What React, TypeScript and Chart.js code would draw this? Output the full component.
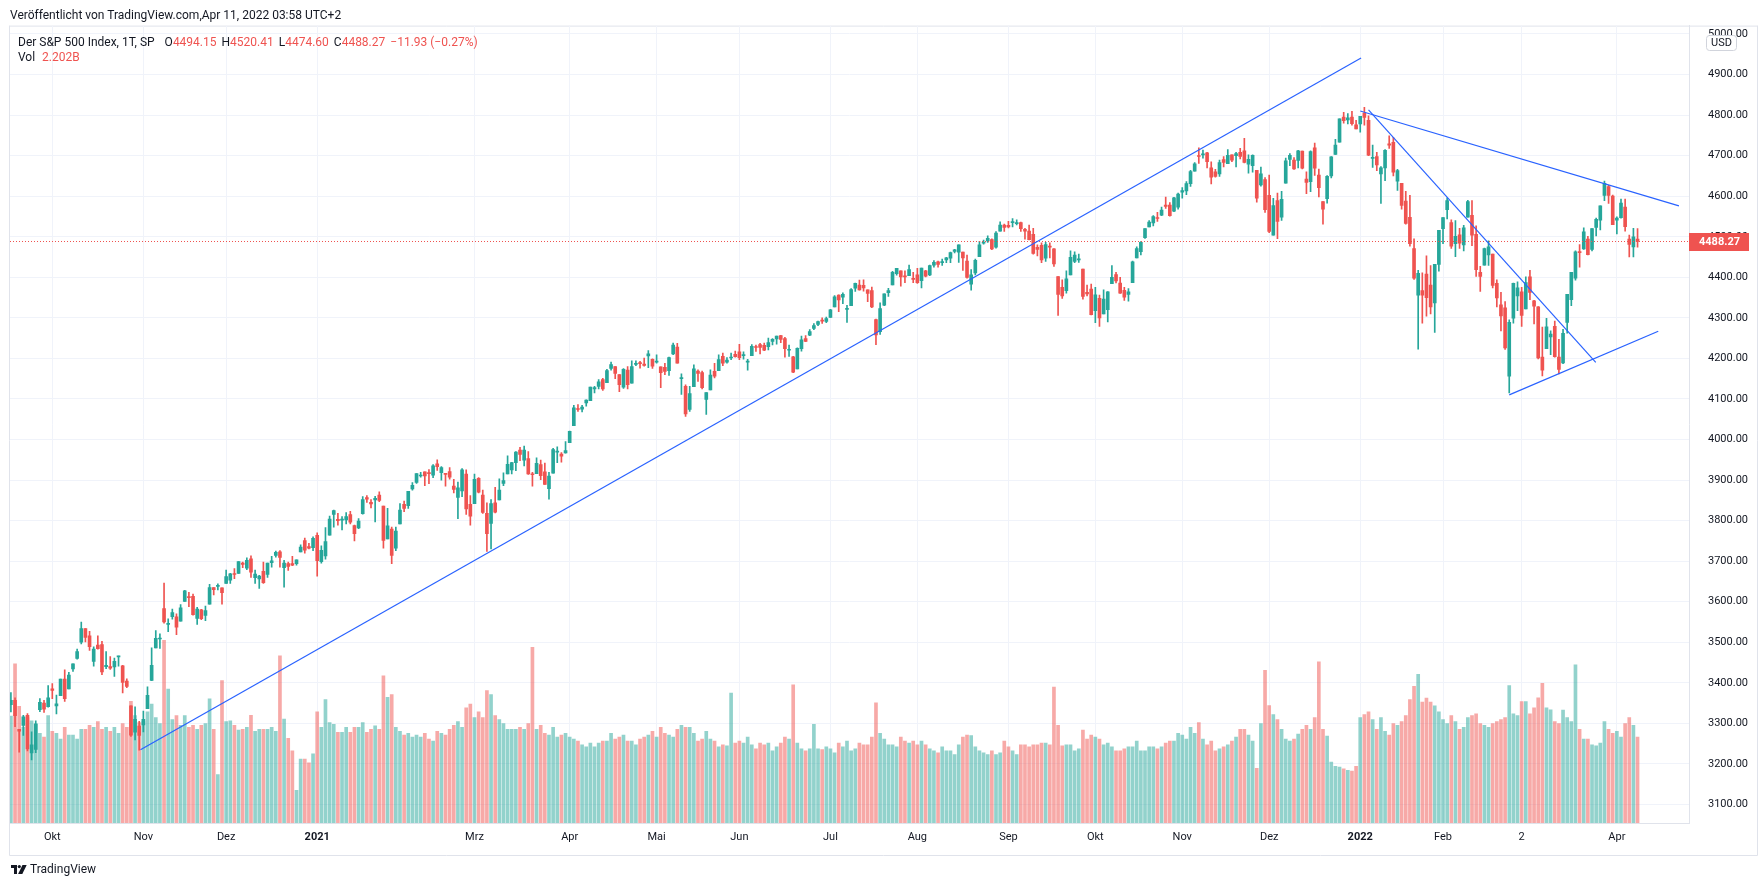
import React, { useEffect, useRef } from "react";
import { Chart, registerables } from "chart.js";
Chart.register(...registerables);

// ---- Daily candles [open, high, low, close] per month ----
const sep20 = [[3346,3376,3328,3357],[3357,3363,3292,3319],[3285,3285,3229,3281],[3295,3320,3270,3316],[3320,3324,3232,3237],[3227,3279,3210,3247],[3236,3306,3228,3298],[3334,3361,3329,3352],[3350,3357,3327,3335],[3341,3393,3340,3363]];
const oct20 = [[3385,3398,3361,3381],[3343,3370,3323,3348],[3368,3409,3368,3409],[3409,3432,3354,3361],[3385,3426,3385,3419],[3434,3447,3428,3447],[3460,3483,3458,3477],[3500,3550,3496,3534],[3534,3534,3501,3512],[3516,3527,3480,3489],[3453,3489,3441,3483],[3493,3516,3483,3484],[3494,3502,3420,3427],[3440,3477,3435,3443],[3440,3465,3433,3436],[3439,3461,3416,3453],[3464,3466,3441,3465],[3442,3443,3375,3401],[3404,3410,3388,3391],[3343,3343,3268,3271],[3278,3341,3259,3310],[3293,3305,3234,3270]];
const nov20 = [[3296,3330,3279,3310],[3336,3390,3336,3369],[3406,3486,3405,3443],[3486,3529,3486,3510],[3508,3521,3485,3509],[3583,3646,3547,3550],[3544,3558,3526,3546],[3563,3582,3557,3573],[3563,3570,3519,3537],[3552,3593,3552,3585],[3601,3628,3601,3627],[3611,3623,3588,3610],[3613,3619,3567,3568],[3559,3586,3544,3582],[3580,3581,3556,3558],[3566,3589,3553,3578],[3594,3643,3594,3635],[3635,3635,3617,3630],[3638,3644,3629,3638],[3634,3634,3594,3622]];
const dec20 = [[3645,3678,3645,3662],[3653,3670,3645,3669],[3669,3682,3657,3667],[3670,3699,3670,3699],[3695,3698,3684,3692],[3683,3708,3679,3702],[3706,3713,3660,3673],[3659,3678,3645,3668],[3656,3665,3633,3663],[3675,3698,3645,3647],[3667,3695,3660,3695],[3696,3712,3685,3701],[3714,3725,3710,3722],[3723,3726,3685,3709],[3684,3702,3636,3695],[3694,3698,3677,3687],[3694,3712,3689,3690],[3694,3703,3690,3703],[3723,3740,3723,3735],[3751,3757,3720,3727],[3736,3744,3730,3732],[3733,3760,3726,3756]];
const jan21 = [[3764,3770,3663,3701],[3699,3738,3695,3727],[3713,3783,3705,3748],[3764,3811,3764,3804],[3815,3826,3784,3825],[3803,3818,3789,3800],[3801,3810,3777,3801],[3802,3820,3792,3810],[3815,3823,3792,3796],[3788,3789,3750,3768],[3782,3805,3780,3799],[3817,3859,3816,3852],[3857,3862,3845,3853],[3845,3852,3831,3841],[3851,3860,3797,3855],[3863,3871,3847,3850],[3836,3836,3732,3751],[3755,3830,3755,3787],[3779,3784,3694,3714]];
const feb21 = [[3732,3784,3726,3774],[3792,3842,3792,3826],[3840,3848,3822,3830],[3837,3872,3830,3872],[3878,3894,3875,3887],[3894,3916,3892,3916],[3910,3919,3907,3911],[3920,3920,3886,3910],[3917,3926,3891,3916],[3912,3938,3906,3935],[3940,3950,3924,3933],[3918,3933,3900,3931],[3916,3916,3885,3914],[3921,3931,3902,3907],[3885,3902,3868,3877],[3857,3895,3805,3881],[3873,3928,3859,3925],[3915,3925,3815,3829],[3840,3862,3789,3811]];
const mar21 = [[3842,3915,3842,3902],[3904,3906,3868,3870],[3863,3875,3818,3820],[3818,3844,3724,3768],[3793,3852,3730,3842],[3844,3882,3819,3821],[3851,3903,3851,3875],[3892,3918,3886,3899],[3915,3960,3915,3939],[3925,3944,3915,3943],[3943,3970,3923,3969],[3974,3981,3948,3963],[3949,3984,3935,3974],[3953,3970,3914,3915],[3914,3919,3885,3913],[3916,3955,3916,3941],[3938,3949,3901,3911],[3920,3942,3889,3889],[3879,3919,3853,3910],[3917,3978,3917,3975],[3969,3982,3943,3971],[3964,3968,3944,3959],[3967,3995,3966,3973]];
const apr21 = [[3992,4021,3992,4020],[4034,4084,4034,4078],[4075,4086,4069,4074],[4075,4084,4068,4080],[4090,4098,4082,4097],[4096,4129,4096,4129],[4125,4131,4115,4128],[4131,4148,4125,4142],[4148,4151,4121,4125],[4140,4173,4140,4170],[4175,4191,4171,4185],[4180,4180,4150,4163],[4160,4160,4118,4135],[4129,4175,4126,4173],[4171,4180,4125,4135],[4139,4194,4139,4180],[4185,4194,4182,4188],[4188,4193,4176,4187],[4186,4201,4181,4183],[4206,4219,4177,4211],[4198,4199,4175,4181]];
const may21 = [[4191,4209,4188,4193],[4179,4179,4128,4165],[4178,4188,4160,4168],[4170,4203,4158,4202],[4211,4238,4209,4233],[4228,4237,4188,4188],[4150,4162,4111,4152],[4131,4135,4057,4063],[4074,4131,4069,4113],[4130,4184,4130,4174],[4169,4172,4143,4163],[4165,4169,4125,4128],[4099,4116,4062,4116],[4122,4172,4122,4159],[4168,4188,4152,4156],[4170,4209,4170,4197],[4205,4213,4182,4188],[4191,4202,4188,4196],[4201,4213,4197,4201],[4210,4218,4203,4204]];
const jun21 = [[4216,4235,4197,4202],[4207,4216,4198,4208],[4191,4198,4171,4193],[4207,4234,4207,4230],[4229,4233,4217,4227],[4234,4237,4211,4227],[4232,4238,4219,4220],[4229,4250,4221,4239],[4242,4249,4233,4247],[4248,4255,4235,4255],[4256,4257,4239,4247],[4249,4252,4203,4224],[4220,4233,4205,4222],[4204,4205,4165,4166],[4174,4226,4174,4225],[4224,4255,4218,4246],[4249,4256,4241,4242],[4257,4271,4256,4266],[4274,4286,4271,4281],[4284,4292,4281,4291],[4294,4300,4286,4292],[4291,4302,4288,4298]];
const jul21 = [[4301,4321,4301,4320],[4327,4355,4327,4352],[4356,4357,4315,4344],[4351,4362,4335,4358],[4321,4331,4289,4321],[4330,4372,4330,4370],[4373,4386,4365,4385],[4381,4393,4368,4369],[4380,4394,4366,4374],[4369,4369,4340,4360],[4367,4376,4325,4327],[4296,4297,4234,4258],[4266,4337,4259,4323],[4331,4359,4330,4359],[4362,4373,4353,4367],[4381,4415,4381,4412],[4409,4422,4405,4422],[4416,4416,4378,4401],[4402,4416,4387,4401],[4404,4430,4404,4419],[4396,4412,4387,4395]];
const aug21 = [[4406,4422,4385,4387],[4392,4423,4374,4423],[4416,4417,4401,4403],[4406,4430,4404,4429],[4430,4441,4425,4437],[4438,4440,4425,4432],[4436,4445,4429,4437],[4443,4449,4436,4448],[4447,4462,4436,4461],[4464,4469,4460,4468],[4462,4480,4437,4480],[4462,4462,4417,4448],[4440,4455,4398,4400],[4383,4419,4368,4406],[4411,4445,4406,4442],[4451,4489,4451,4480],[4484,4492,4482,4486],[4490,4502,4486,4496],[4493,4495,4468,4470],[4474,4513,4472,4509],[4514,4537,4514,4529],[4529,4531,4513,4523]];
const sep21 = [[4528,4538,4522,4524],[4535,4545,4524,4537],[4532,4542,4529,4535],[4535,4536,4513,4520],[4518,4521,4494,4514],[4514,4529,4492,4493],[4506,4521,4457,4459],[4474,4480,4453,4469],[4479,4485,4436,4443],[4447,4486,4439,4481],[4477,4485,4448,4474],[4470,4471,4427,4433],[4402,4402,4306,4358],[4375,4394,4348,4354],[4367,4416,4361,4396],[4406,4465,4406,4449],[4439,4463,4436,4455],[4443,4457,4437,4443],[4420,4420,4346,4353],[4363,4381,4354,4359],[4371,4383,4307,4308]];
const oct21 = [[4318,4375,4288,4357],[4348,4356,4279,4300],[4310,4369,4310,4346],[4320,4365,4290,4364],[4384,4429,4384,4400],[4407,4412,4386,4391],[4386,4400,4360,4361],[4368,4375,4343,4351],[4358,4372,4341,4364],[4387,4440,4387,4438],[4448,4475,4448,4471],[4463,4488,4455,4486],[4498,4520,4496,4520],[4524,4540,4524,4536],[4534,4552,4527,4550],[4547,4560,4538,4545],[4553,4573,4552,4566],[4578,4598,4570,4575],[4578,4584,4551,4552],[4563,4597,4562,4596],[4573,4608,4568,4605]];
const nov21 = [[4610,4621,4595,4614],[4613,4636,4604,4631],[4631,4664,4624,4661],[4662,4683,4662,4680],[4700,4719,4681,4698],[4702,4714,4694,4702],[4707,4708,4670,4685],[4670,4685,4630,4647],[4660,4666,4647,4649],[4655,4689,4649,4683],[4690,4698,4672,4683],[4680,4715,4680,4701],[4702,4702,4685,4689],[4700,4708,4672,4705],[4708,4718,4692,4698],[4712,4743,4682,4683],[4679,4702,4657,4691],[4675,4702,4659,4701],[4664,4664,4585,4595],[4628,4672,4625,4655],[4641,4646,4560,4567]];
const dec21 = [[4602,4652,4510,4513],[4504,4595,4504,4577],[4589,4608,4495,4538],[4548,4612,4540,4592],[4632,4694,4632,4687],[4691,4705,4675,4701],[4689,4695,4666,4667],[4688,4713,4670,4712],[4711,4711,4667,4669],[4642,4660,4606,4634],[4636,4712,4611,4710],[4719,4731,4651,4669],[4652,4667,4598,4621],[4587,4587,4531,4568],[4594,4651,4583,4649],[4650,4698,4645,4697],[4703,4740,4703,4726],[4733,4791,4733,4791],[4795,4807,4780,4786],[4788,4804,4778,4793],[4795,4809,4775,4779],[4776,4787,4766,4766]];
const jan22 = [[4778,4797,4758,4797],[4805,4819,4775,4794],[4787,4798,4700,4701],[4693,4726,4671,4696],[4698,4708,4663,4677],[4655,4673,4582,4670],[4670,4715,4638,4713],[4729,4749,4718,4726],[4733,4745,4650,4659],[4637,4666,4614,4663],[4632,4632,4568,4577],[4588,4612,4531,4533],[4548,4602,4477,4483],[4471,4495,4395,4398],[4356,4417,4223,4410],[4367,4411,4287,4356],[4408,4453,4304,4350],[4381,4429,4310,4327],[4337,4432,4264,4432],[4432,4516,4415,4516]];
const feb22 = [[4520,4547,4483,4547],[4567,4596,4544,4589],[4535,4542,4471,4477],[4483,4540,4451,4501],[4505,4521,4471,4484],[4480,4528,4465,4522],[4548,4590,4548,4587],[4553,4589,4478,4504],[4506,4527,4402,4419],[4412,4427,4365,4402],[4430,4472,4430,4471],[4455,4490,4429,4475],[4457,4457,4374,4380],[4385,4394,4327,4349],[4332,4363,4268,4305],[4325,4340,4222,4226],[4156,4295,4115,4289],[4299,4386,4287,4385],[4354,4389,4318,4374]];
const mar22 = [[4364,4375,4279,4306],[4322,4401,4322,4387],[4401,4417,4345,4363],[4342,4343,4285,4329],[4327,4328,4199,4201],[4203,4277,4157,4171],[4224,4299,4224,4278],[4253,4268,4209,4260],[4279,4292,4203,4204],[4203,4247,4162,4173],[4189,4272,4187,4262],[4289,4358,4262,4358],[4345,4412,4330,4412],[4398,4465,4393,4463],[4462,4481,4425,4461],[4470,4522,4469,4512],[4494,4501,4455,4456],[4469,4520,4465,4520],[4523,4546,4502,4543],[4541,4576,4517,4576],[4602,4637,4589,4632],[4624,4627,4582,4602],[4600,4603,4530,4530]];
const apr22 = [[4541,4549,4507,4546],[4547,4593,4546,4583],[4573,4593,4514,4525],[4494,4504,4450,4481],[4475,4521,4450,4500],[4494.15,4520.41,4474.60,4488.27]];

// ---- Daily volume (billions) per month ----
const volSep20 = [2.74,4.08,2.99,2.45,2.70,2.62,2.55,2.30,2.20,2.75];
const volOct20 = [2.35,2.30,2.15,2.45,2.25,2.25,2.15,2.40,2.40,2.50,2.45,2.60,2.40,2.45,2.35,2.45,2.30,2.55,2.45,3.12,2.75,2.57];
const volNov20 = [2.60,2.85,3.05,2.70,2.55,4.68,3.43,2.65,2.75,2.50,2.75,2.45,2.50,2.40,2.50,2.55,3.18,2.40,1.24,3.65];
const volDec20 = [2.60,2.62,2.50,2.38,2.40,2.45,2.76,2.35,2.40,2.40,2.40,2.45,2.35,4.28,2.66,2.17,1.85,0.84,1.64,1.64,1.54,1.77];
const volJan21 = [2.85,2.45,3.16,2.57,2.53,2.32,2.32,2.45,2.32,2.45,2.45,2.57,2.32,2.40,2.49,2.40,3.77,3.22,3.29];
const volFeb21 = [2.45,2.35,2.25,2.30,2.20,2.25,2.20,2.30,2.15,2.10,2.35,2.30,2.25,2.40,2.50,2.60,2.45,2.95,3.05];
const volMar21 = [2.70,2.85,2.70,3.39,3.29,2.75,2.65,2.55,2.40,2.40,2.40,2.45,2.40,2.55,4.50,2.40,2.50,2.30,2.25,2.45,2.20,2.25,2.30];
const volApr21 = [2.20,2.15,2.10,2.00,1.95,2.05,1.95,2.05,2.10,2.10,2.30,2.15,2.20,2.25,2.10,2.10,2.00,2.15,2.20,2.25,2.35];
const volMay21 = [2.20,2.45,2.30,2.25,2.20,2.40,2.50,2.45,2.45,2.30,2.10,2.15,2.35,2.15,2.10,1.95,2.00,1.98,3.33,2.05];
const volJun21 = [2.10,2.05,2.20,2.00,1.90,2.05,2.00,2.05,1.85,1.95,2.05,2.20,2.15,3.54,2.05,1.90,1.85,1.90,2.53,1.90,1.88,1.95];
const volJul21 = [1.90,1.80,2.05,1.95,2.10,1.85,1.90,2.05,2.00,2.00,2.20,3.08,2.30,2.15,2.00,2.00,1.95,2.20,2.10,2.05,2.10];
const volAug21 = [2.00,2.10,2.00,1.90,1.85,1.80,1.95,1.85,1.85,1.75,2.00,2.20,2.25,2.24,1.95,1.85,1.80,1.75,1.85,1.75,1.80,2.10];
const volSep21 = [1.95,1.85,1.75,2.00,2.00,1.95,2.00,2.00,2.05,2.05,2.00,3.48,2.50,1.98,2.00,2.00,1.85,1.90,2.38,2.15,2.25];
const volOct21 = [2.20,2.15,2.00,2.05,1.95,1.85,1.85,1.90,1.95,1.95,2.10,1.85,1.85,1.95,1.95,1.90,1.95,2.05,2.10,2.10,2.30];
const volNov21 = [2.25,2.15,2.45,2.30,2.57,2.15,2.00,2.10,1.85,1.90,1.95,2.00,2.10,2.20,2.40,2.40,2.25,2.10,1.40,2.55,3.91];
const volDec21 = [3.01,2.78,2.65,2.40,2.15,2.10,2.15,2.28,2.40,2.50,2.40,2.70,4.13,2.40,2.23,1.56,1.45,1.43,1.39,1.35,1.33,1.45];
const volJan22 = [2.70,2.78,2.85,2.65,2.40,2.70,2.35,2.25,2.55,2.50,2.60,2.75,3.16,3.50,3.81,3.10,3.20,3.10,3.00,2.85];
const volFeb22 = [2.65,2.55,2.75,2.60,2.40,2.45,2.70,2.75,2.80,2.55,2.50,2.45,2.55,2.60,2.65,2.70,3.52,2.80,2.75];
const volMar22 = [3.11,3.11,2.80,2.95,3.21,3.58,2.95,2.90,2.60,2.55,2.89,2.70,2.60,4.05,2.40,2.15,2.15,2.00,1.98,2.05,2.60,2.40,2.30];
const volApr22 = [2.35,2.20,2.55,2.70,2.50,2.202];

// ---- Axis ticks (bar index of first session of each month) ----
const monthTickIndex = [10, 32, 52, 74, 112, 135, 156, 176, 198, 219, 241, 262, 283, 304, 326, 346, 365, 388];
const monthTickLabels = ["Okt", "Nov", "Dez", "2021", "Mrz", "Apr", "Mai", "Jun", "Jul", "Aug", "Sep", "Okt", "Nov", "Dez", "2022", "Feb", "2", "Apr"];
const priceTicks = [3100, 3200, 3300, 3400, 3500, 3600, 3700, 3800, 3900, 4000, 4100, 4200, 4300, 4400, 4500, 4600, 4700, 4800, 4900, 5000];

// ---- Drawn trend lines [barIndex, price] ----
const longUptrend = [[31.3, 3235], [326.2, 4941]];
const upperDowntrend = [[326.0, 4810], [403.0, 4576]];
const steepDowntrend = [[328.0, 4813], [382.9, 4190]];
const lowerUptrend = [[362.0, 4110], [398.0, 4267]];
const lastPrice = 4488.27;

const candleMonths = [sep20, oct20, nov20, dec20, jan21, feb21, mar21, apr21, may21, jun21, jul21, aug21, sep21, oct21, nov21, dec21, jan22, feb22, mar22, apr22];
const volumeMonths = [volSep20, volOct20, volNov20, volDec20, volJan21, volFeb21, volMar21, volApr21, volMay21, volJun21, volJul21, volAug21, volSep21, volOct21, volNov21, volDec21, volJan22, volFeb22, volMar22, volApr22];

const UP = "#26a69a";
const DOWN = "#ef5350";
const VOL_UP = "rgba(38,166,154,0.5)";
const VOL_DOWN = "rgba(239,83,80,0.5)";
const FONT = "Roboto, 'Liberation Sans', sans-serif";
const TEXT = "#131722";
const BORDER = "#e0e3eb";

const X_MIN = -0.22;
const X_MAX = 405.43;

export default function App() {
  const ref = useRef<HTMLCanvasElement | null>(null);

  useEffect(() => {
    const canvas = ref.current;
    if (!canvas) return;
    const candles = candleMonths.flat();
    const volumes = volumeMonths.flat();
    const isUp = candles.map((c) => c[3] >= c[0]);
    const candleColors = isUp.map((u) => (u ? UP : DOWN));
    const volColors = isUp.map((u) => (u ? VOL_UP : VOL_DOWN));

    const line = (pts: number[][], extra: any = {}) => ({
      type: "line",
      data: pts.map((p) => ({ x: p[0], y: p[1] })),
      borderColor: "#2962ff",
      borderWidth: 1.2,
      pointRadius: 0,
      fill: false,
      tension: 0,
      yAxisID: "y",
      order: 0,
      ...extra,
    });

    const framePlugin = {
      id: "frame",
      beforeDraw(chart: any) {
        const { ctx, chartArea } = chart;
        ctx.save();
        ctx.fillStyle = "#ffffff";
        ctx.fillRect(0, 0, chart.width, chart.height);
        ctx.strokeStyle = BORDER;
        ctx.lineWidth = 1;
        ctx.beginPath();
        ctx.moveTo(chartArea.left - 0.5, chartArea.top + 0.5);
        ctx.lineTo(1757.5, chartArea.top + 0.5);
        ctx.moveTo(chartArea.left - 0.5, chartArea.top);
        ctx.lineTo(chartArea.left - 0.5, 855.5);
        ctx.lineTo(1757.5, 855.5);
        ctx.lineTo(1757.5, chartArea.top);
        ctx.stroke();
        ctx.restore();
      },
      afterDraw(chart: any) {
        const { ctx, chartArea } = chart;
        const y = chart.scales.y.getPixelForValue(lastPrice);
        ctx.save();
        ctx.fillStyle = DOWN;
        ctx.fillRect(chartArea.right, Math.round(y) - 9, 60, 18);
        ctx.fillStyle = "#ffffff";
        ctx.font = `bold 11px ${FONT}`;
        ctx.textBaseline = "middle";
        ctx.textAlign = "left";
        ctx.fillText(lastPrice.toFixed(2), chartArea.right + 10, Math.round(y) + 0.5);
        // currency badge
        ctx.fillStyle = "#ffffff";
        ctx.strokeStyle = "#d1d4dc";
        ctx.beginPath();
        (ctx as any).roundRect(1706.5, 35.5, 30, 15, 3);
        ctx.fill();
        ctx.stroke();
        ctx.fillStyle = TEXT;
        ctx.font = `11px ${FONT}`;
        ctx.textAlign = "center";
        ctx.fillText("USD", 1721.5, 43.5);
        ctx.restore();
      },
    };

    const chart = new Chart(canvas, {
      type: "bar",
      data: {
        datasets: [
          {
            type: "bar",
            data: volumes.map((v, i) => ({ x: i, y: v })),
            yAxisID: "yv",
            backgroundColor: volColors,
            barThickness: 3,
            grouped: false,
            order: 5,
          } as any,
          {
            type: "bar",
            data: candles.map((c, i) => ({ x: i, y: [c[2], c[1]] })),
            yAxisID: "y",
            backgroundColor: candleColors,
            barThickness: 1,
            grouped: false,
            order: 4,
          } as any,
          {
            type: "bar",
            data: candles.map((c, i) => ({ x: i, y: [c[0], c[3]] })),
            yAxisID: "y",
            backgroundColor: candleColors,
            barThickness: 3,
            minBarLength: 1,
            grouped: false,
            order: 3,
          } as any,
          line([[X_MIN, lastPrice], [X_MAX, lastPrice]], { borderColor: DOWN, borderWidth: 1, borderDash: [1, 2], order: 2 }),
          line(longUptrend),
          line(upperDowntrend),
          line(steepDowntrend),
          line(lowerUptrend),
        ] as any,
      },
      options: {
        responsive: false,
        animation: false,
        events: [],
        layout: { padding: { left: 10, top: 25, right: 5, bottom: 33 } },
        plugins: { legend: { display: false }, tooltip: { enabled: false } },
        scales: {
          x: {
            type: "linear",
            position: "bottom",
            min: X_MIN,
            max: X_MAX,
            offset: false,
            afterBuildTicks: (axis: any) => {
              axis.ticks = monthTickIndex.map((v) => ({ value: v }));
            },
            afterFit: (axis: any) => {
              axis.height = 32;
            },
            ticks: {
              autoSkip: false,
              maxRotation: 0,
              padding: 8,
              color: TEXT,
              font: (ctx: any) => {
                const idx = monthTickIndex.indexOf(ctx.tick ? ctx.tick.value : -1);
                const lab = monthTickLabels[idx] || "";
                return { family: FONT, size: 11, weight: /^\d{4}$/.test(lab) ? "bold" : "normal" };
              },
              callback: (v: any) => {
                const idx = monthTickIndex.indexOf(Number(v));
                return idx >= 0 ? monthTickLabels[idx] : "";
              },
            },
            grid: { color: "#f0f3fa", drawTicks: false, offset: false },
            border: { display: true, color: BORDER },
          },
          y: {
            type: "linear",
            position: "right",
            min: 3054.3,
            max: 5020.7,
            beginAtZero: false,
            afterBuildTicks: (axis: any) => {
              axis.ticks = priceTicks.map((v) => ({ value: v }));
            },
            afterFit: (axis: any) => {
              axis.width = 68;
            },
            ticks: {
              autoSkip: false,
              padding: 19,
              color: TEXT,
              font: { family: FONT, size: 11 },
              callback: (v: any) => Number(v).toFixed(2),
            },
            grid: { color: "#f0f3fa", drawTicks: false },
            border: { display: true, color: BORDER },
          },
          yv: {
            type: "linear",
            display: false,
            min: 0,
            max: 20.43,
          },
        },
      } as any,
      plugins: [framePlugin],
    });
    return () => chart.destroy();
  }, []);

  const red = { color: DOWN };
  const item = { marginLeft: 5 };
  return (
    <div style={{ position: "fixed", left: 0, top: 0, width: 1762, height: 888, background: "#fff", fontFamily: FONT, color: TEXT }}>
      <canvas ref={ref} width={1762} height={888} style={{ position: "absolute", left: 0, top: 0, width: 1762, height: 888 }} />
      <div style={{ position: "absolute", left: 10, top: 8, fontSize: 12, lineHeight: "14px", whiteSpace: "nowrap" }}>
        Veröffentlicht von TradingView.com,Apr 11, 2022 03:58 UTC+2
      </div>
      <div style={{ position: "absolute", left: 18, top: 35, fontSize: 12, lineHeight: "14px", whiteSpace: "nowrap" }}>
        <span>Der S&amp;P 500 Index, 1T, SP</span>
        <span style={{ marginLeft: 10 }}>O<span style={red}>4494.15</span></span>
        <span style={item}>H<span style={red}>4520.41</span></span>
        <span style={item}>L<span style={red}>4474.60</span></span>
        <span style={item}>C<span style={red}>4488.27</span></span>
        <span style={{ ...item, ...red }}>−11.93 (−0.27%)</span>
      </div>
      <div style={{ position: "absolute", left: 18, top: 50, fontSize: 12, lineHeight: "14px", whiteSpace: "nowrap" }}>
        Vol <span style={{ ...red, marginLeft: 4 }}>2.202B</span>
      </div>
      <div style={{ position: "absolute", left: 11, top: 862, display: "flex", alignItems: "center", fontSize: 12, whiteSpace: "nowrap" }}>
        <svg width="16" height="11" viewBox="0 0 16 11" style={{ marginRight: 3 }}>
          <path d="M0 1h6v9H3V4H0z" fill={TEXT} />
          <circle cx="8.3" cy="2.6" r="1.6" fill={TEXT} />
          <path d="M11.5 1h4.2l-4.4 9H7.1z" fill={TEXT} />
        </svg>
        <span>TradingView</span>
      </div>
    </div>
  );
}
